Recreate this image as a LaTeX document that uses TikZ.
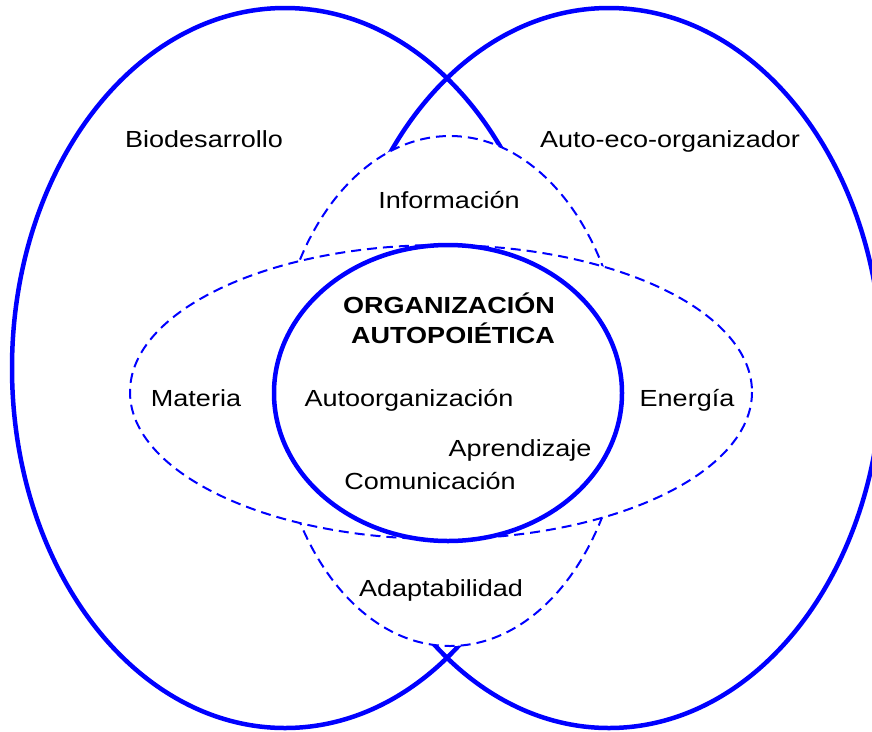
\documentclass[tikz,border=0pt]{standalone}
\usepackage{fontspec}
\setmainfont{Liberation Sans}
\usetikzlibrary{positioning}
\definecolor{ringblue}{HTML}{0000FF}
\tikzset{
  ring/.style={draw=ringblue, line width=4.5pt},
  dashring/.style={draw=ringblue, line width=2pt, dash pattern=on 10pt off 6pt, fill=white},
  lbl/.style={font=\fontsize{23.3}{30}\selectfont, xscale=1.16, inner sep=0pt, anchor=base}
}

\begin{document}
\begin{tikzpicture}[x=1pt,y=-1pt]

  \useasboundingbox (0,0) rectangle (872,731);
  \clip (0,0) rectangle (872,731);

  \draw[ring] (285,368) ellipse [x radius=273, y radius=360]; %% left
  \draw[ring] (609,368) ellipse [x radius=273, y radius=360]; %% right

  \draw[dashring] (450,391) ellipse [x radius=175, y radius=255]; %% vertical
  \draw[dashring] (441,392) ellipse [x radius=311, y radius=147]; %% horizontal

  \draw[ring, fill=white] (448,393) ellipse [x radius=174, y radius=148];

  \node[lbl] (bio) at (204,147) {Biodesarrollo};
  \node[lbl] (autoeco) at (670,147) {Auto-eco-organizador};
  \node[lbl] (info) at (449,208) {Información};

  \node[lbl] (orgatop) at (449,313) {\bfseries ORGANIZACIÓN};
  \node[lbl] (orgabot) at (453,343) {\bfseries AUTOPOIÉTICA};

  \node[lbl] (materia) at (196,406) {Materia};
  \node[lbl] (autoorg) at (409,406) {Autoorganización};
  \node[lbl] (energia) at (687,406) {Energía};
  \node[lbl] (aprend) at (520,456) {Aprendizaje};
  \node[lbl] (comunic) at (430,489) {Comunicación};
  \node[lbl] (adapt) at (441,596) {Adaptabilidad};

\end{tikzpicture}
\end{document}
